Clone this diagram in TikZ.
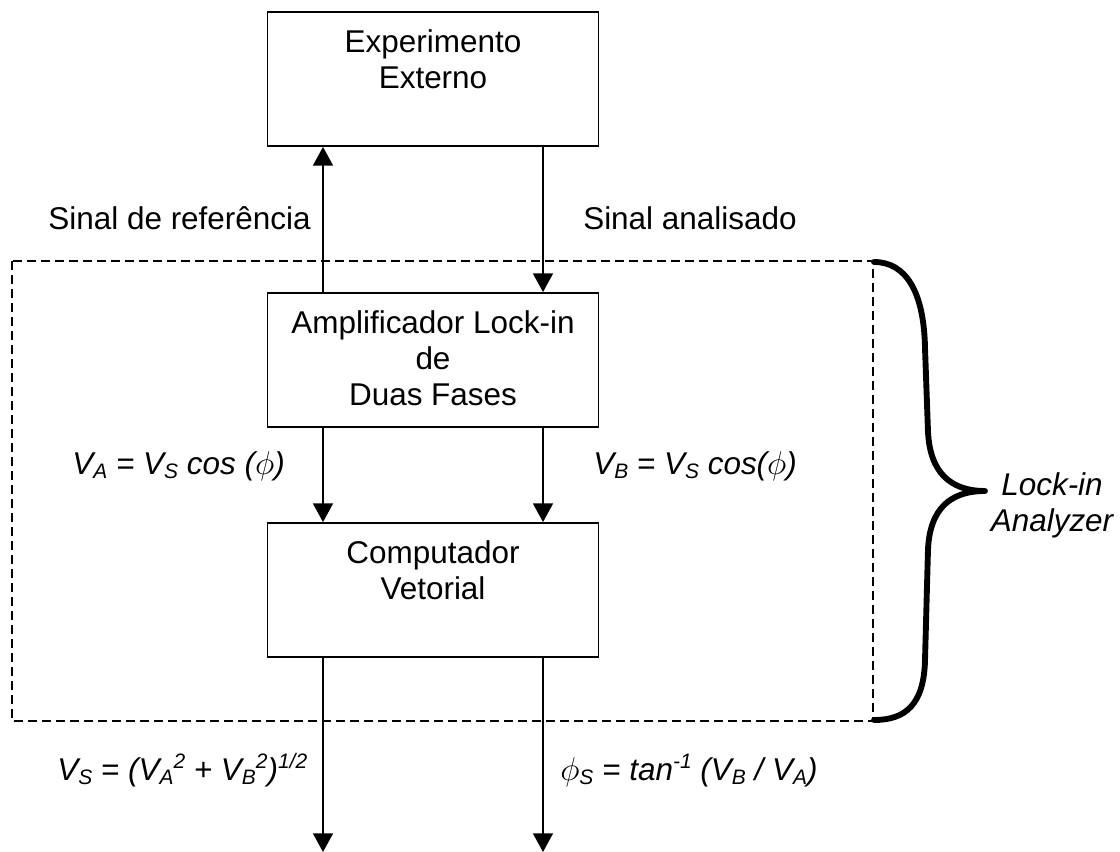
\documentclass[tikz,border=0pt]{standalone}
\usepackage{fontspec}
\setmainfont{Liberation Sans}
\usetikzlibrary{arrows.meta}
% subscript / superscript helpers for the formula labels
\newcommand{\lowr}[1]{\raisebox{-3.6pt}{\fontsize{15.7pt}{15.7pt}\selectfont #1}}
\newcommand{\uppr}[1]{\raisebox{8.5pt}{\fontsize{15.7pt}{15.7pt}\selectfont #1}}
\begin{document}
\begin{tikzpicture}[x=0.75pt,y=-0.75pt,
  every node/.style={font=\fontsize{23.6pt}{27pt}\selectfont, inner sep=0pt},
  blockbox/.style={draw, line width=1.4pt, minimum width=248.25pt, minimum height=100.5pt},
  blocktext/.style={anchor=north, align=center},
  flow/.style={line width=1.1pt, -{Triangle[width=15pt,length=14pt]}},
  lbl/.style={font=\fontsize{23.6pt}{27pt}\selectfont},
  eq/.style={font=\fontsize{23.6pt}{27pt}\selectfont\itshape},
  frame/.style={line width=1.1pt, dash pattern=on 6.5pt off 4pt},
  curly/.style={line width=4.4pt, line cap=round, line join=round}
]
\useasboundingbox (0,0) rectangle (1120,852);

% signal columns
\coordinate (xl) at (323,0);
\coordinate (xr) at (543,0);

% blocks
\node[blockbox] (ext)  at (433,79)  {};
\node[blockbox] (amp)  at (433,360) {};
\node[blockbox] (comp) at (433,590) {};
\node[blocktext] (exttxt)  at ([yshift=-18*0.75pt]ext.north)  {Experimento\\Externo};
\node[blocktext] (amptxt)  at ([yshift=-18*0.75pt]amp.north)  {Amplificador Lock-in\\de\\Duas Fases};
\node[blocktext] (comptxt) at ([yshift=-18*0.75pt]comp.north) {Computador\\Vetorial};

% connectors
\draw[flow] (amp.north -| xl) -- (ext.south -| xl);
\draw[flow] (ext.south -| xr) -- (amp.north -| xr);
\draw[flow] (amp.south -| xl) -- (comp.north -| xl);
\draw[flow] (amp.south -| xr) -- (comp.north -| xr);
\coordinate (outl) at (323,852);
\coordinate (outr) at (543,852);
\draw[flow] (comp.south -| xl) -- (outl);
\draw[flow] (comp.south -| xr) -- (outr);

% analyzer frame and brace
\coordinate (ftl) at (12,261);
\coordinate (fbr) at (873,721);
\draw[frame] (ftl) rectangle (fbr);
\draw[curly] (874,262) .. controls (906,262) and (924,292) .. (925,348)
  -- (928,432) .. controls (930,472) and (950,491) .. (985,491)
  .. controls (950,491) and (930,509) .. (928,549)
  -- (925,660) .. controls (924,704) and (906,720) .. (874,720);

% labels
\node[lbl, anchor=base east] (ref) at (311,229) {Sinal de referência};
\node[lbl, anchor=base west] (ana) at (583,229) {Sinal analisado};
\node[eq, anchor=base east] (va) at (285,474) {V\lowr{A} = V\lowr{S} cos (\(\phi\))};
\node[eq, anchor=base west] (vb) at (593,474) {V\lowr{B} = V\lowr{S} cos(\(\phi\))};
\node[eq, anchor=base west] (vs) at (57,780) {V\lowr{S} = (V\lowr{A}\uppr{2} + V\lowr{B}\uppr{2})\uppr{1/2}};
\node[eq, anchor=base west] (ps) at (560,780) {\(\phi\)\lowr{S} = tan\uppr{-1} (V\lowr{B} / V\lowr{A})};
\node[eq, align=center, anchor=center] (lia) at (1052,505) {Lock-in\\Analyzer};
\end{tikzpicture}
\end{document}
